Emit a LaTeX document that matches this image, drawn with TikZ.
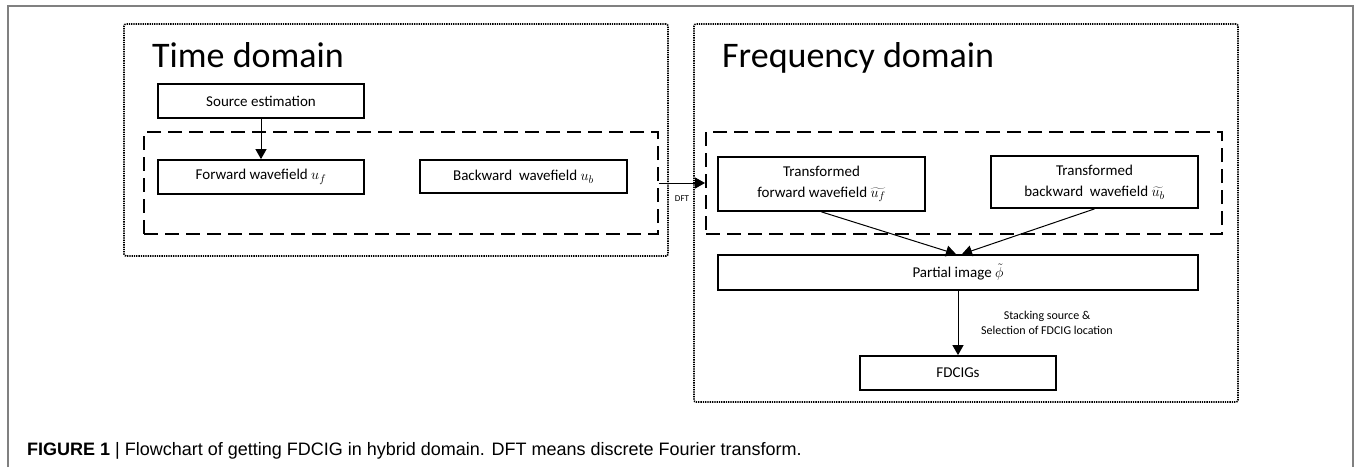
\documentclass[tikz,border=0pt]{standalone}
\usepackage{fontspec}
\setmainfont{Carlito}
\newfontfamily\capfont{Liberation Sans}
\usetikzlibrary{arrows.meta}

\begin{document}
\begin{tikzpicture}[x=1pt,y=-1pt,
		stepbox/.style={draw, line width=1.8pt, inner sep=0pt, align=center, font=\fontsize{15}{21}\selectfont},
		groupbox/.style={draw, line width=2pt, dash pattern=on 14pt off 7pt, inner sep=0pt},
		domainbox/.style={draw, line width=1.6pt, dash pattern=on 1.3pt off 1pt, rounded corners=2pt, inner sep=0pt},
		titletext/.style={anchor=base west, inner sep=0pt, font=\fontsize{36}{40}\selectfont},
		flowarrow/.style={-{Triangle[length=10pt,width=11pt]}, line width=1pt},
		notetext/.style={inner sep=0pt, align=center, font=\fontsize{12}{15}\selectfont}]
		\useasboundingbox (0,0) rectangle (1354,467);

		%% frame
		\draw[gray, line width=1.2pt] (8,467)--(8,6)--(1353,6)--(1353,467);

		%% time domain
		\node[domainbox, minimum width=544pt, minimum height=232pt] at (396,140)(time){};
		\node[titletext] at (152,67)(timetitle){Time domain};

		\node[groupbox, minimum width=514pt, minimum height=102pt] at (401,183)(tgroup){};

		\node[stepbox, minimum width=206pt, minimum height=34pt] at (261,101)(src){Source estimation};
		\node[stepbox, minimum width=206pt, minimum height=34pt] at (261,177)(fwd){Forward wavefield $u_f$};
		\node[stepbox, minimum width=207pt, minimum height=33pt] at (523.5,176.5)(bwd){Backward~ wavefield $u_b$};

		\draw[flowarrow] (src)--(fwd);

		%% frequency domain
		\node[domainbox, minimum width=544pt, minimum height=378pt] at (966,213)(freq){};
		\node[titletext] at (722,67)(freqtitle){Frequency domain};

		\node[groupbox, minimum width=516pt, minimum height=102pt] at (964,183)(fgroup){};

		\node[stepbox, minimum width=207pt, minimum height=54pt] at (821.5,184)(tfwd){Transformed\\forward wavefield $\widetilde{u_f}$};
		\node[stepbox, minimum width=207pt, minimum height=52pt] at (1094.5,182)(tbwd){Transformed\\backward~ wavefield $\widetilde{u_b}$};
		\node[stepbox, minimum width=480pt, minimum height=35pt] at (958,272.5)(part){Partial image $\tilde{\phi}$};
		\node[stepbox, minimum width=196pt, minimum height=34pt] at (958,373)(fdcig){FDCIGs};

		\draw[flowarrow] (tfwd.south)--([xshift=-2pt]part.north);
		\draw[flowarrow] (tbwd.south)--([xshift=4pt]part.north);
		\draw[flowarrow] (part)--(fdcig)
			node[notetext, midway, xshift=89pt]{Stacking source \&\\Selection of FDCIG location};

		%% dft
		\draw[flowarrow] (tgroup)--(fgroup)
			node[midway, yshift=-16pt, inner sep=0pt, font=\fontsize{9}{9}\selectfont]{DFT};

		%% caption
		\node[anchor=base west, inner sep=0pt, font=\capfont\fontsize{18}{20}\selectfont] at (27,455)(caption)
			{\textbf{FIGURE 1} | Flowchart of getting FDCIG in hybrid domain. DFT means discrete Fourier transform.};
	\end{tikzpicture}
\end{document}
